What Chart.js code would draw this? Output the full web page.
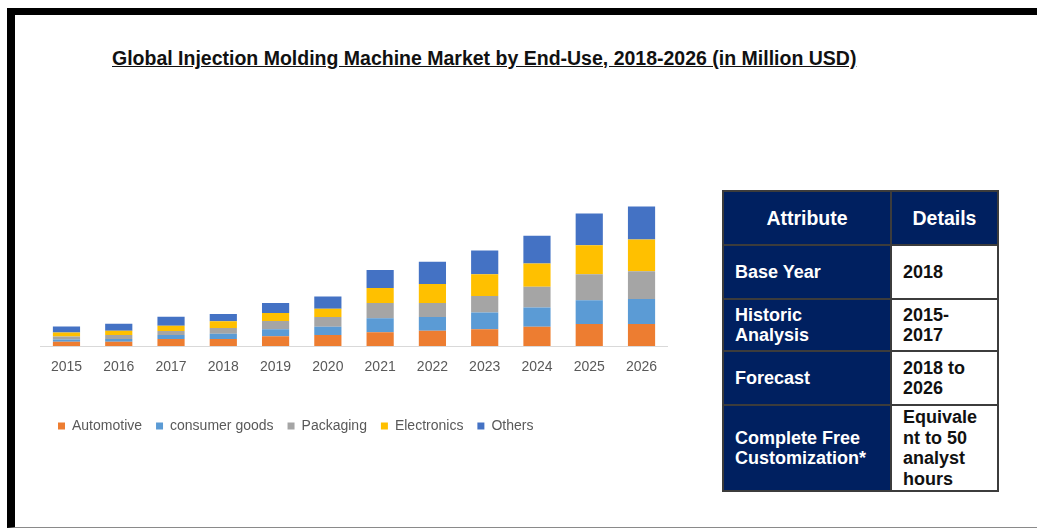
<!DOCTYPE html>
<html>
<head>
<meta charset="utf-8">
<script src="https://cdn.jsdelivr.net/npm/chart.js@4/dist/chart.umd.min.js"></script>
<style>
  html, body { margin: 0; padding: 0; background: #fff; }
  body { width: 1037px; height: 529px; position: relative; overflow: hidden; font-family: "Liberation Sans", Arial, sans-serif; }
  .frame { position: absolute; left: 7px; top: 8px; right: -10px; bottom: 1px;
           border-left: 8px solid #000; border-top: 7px solid #000; border-bottom: 1px solid #8a8a8a; }
  .title { position: absolute; left: 112px; top: 46px; white-space: nowrap;
           font-weight: bold; font-size: 19.5px; line-height: 24px; text-decoration: underline; color: #111; }
  .chart-box { position: absolute; left: 38px; top: 196px; width: 632px; height: 247px; }
  table.attr { position: absolute; left: 722px; top: 190px; width: 275px; border-collapse: collapse; table-layout: fixed; }
  table.attr td { border: 2px solid #3c3c3c; font-weight: bold; font-size: 18px; line-height: 20.5px; vertical-align: middle; padding: 0 5px 0 11px; }
  table.attr td.k { background: #002060; color: #fff; }
  table.attr td.v { background: #fff; color: #111; }
  table.attr tr.head td { text-align: center; font-size: 19.5px; padding: 0; }
</style>
</head>
<body>
<div class="frame"></div>
<div class="title">Global Injection Molding Machine Market by End-Use, 2018-2026 (in Million USD)</div>
<div class="chart-box"><canvas id="marketChart"></canvas></div>
<table class="attr">
  <colgroup><col style="width:168px"><col style="width:107px"></colgroup>
  <tr class="head" style="height:54px"><td class="k">Attribute</td><td class="k">Details</td></tr>
  <tr style="height:54px"><td class="k">Base Year</td><td class="v">2018</td></tr>
  <tr style="height:52px"><td class="k">Historic<br>Analysis</td><td class="v">2015-<br>2017</td></tr>
  <tr style="height:54px"><td class="k">Forecast</td><td class="v">2018 to<br>2026</td></tr>
  <tr style="height:86px"><td class="k">Complete Free<br>Customization*</td><td class="v">Equivale<br>nt to 50<br>analyst<br>hours</td></tr>
</table>
<script>
// values (relative, same scale for all series)
const years = ['2015', '2016', '2017', '2018', '2019', '2020', '2021', '2022', '2023', '2024', '2025', '2026'];
const automotive    = [4.3, 4.3, 7.0, 7.0, 9.7, 11.0, 13.7, 15.3, 16.7, 19.3, 22.0, 22.0];
const consumerGoods = [2.3, 2.7, 4.0, 5.3, 7.0, 8.3, 14.0, 13.7, 16.7, 19.3, 23.7, 25.0];
const packaging     = [3.0, 4.0, 4.0, 5.7, 8.3, 9.7, 15.3, 14.0, 16.7, 20.7, 26.0, 27.7];
const electronics   = [4.0, 4.3, 5.3, 6.7, 8.0, 8.3, 15.0, 19.0, 21.7, 23.3, 29.0, 31.7];
const others        = [6.0, 7.0, 9.0, 7.3, 10.0, 12.3, 18.0, 22.3, 23.7, 27.7, 31.7, 33.0];
const yMax = 150;

Chart.defaults.font.family = '"Liberation Sans", Arial, sans-serif';
Chart.defaults.color = '#595959';

const ctx = document.getElementById('marketChart').getContext('2d');
const makeSet = (label, data, color) => ({
  label: label,
  data: data,
  backgroundColor: color,
  borderWidth: 0,
  barPercentage: 0.65,
  categoryPercentage: 0.8
});

// legend sits a bit to the right of the plot's left edge in the original
const legendShift = {
  id: 'legendShift',
  afterLayout(chart) {
    if (chart.legend) {
      chart.legend.left += 6;
      chart.legend.right += 6;
    }
  }
};

new Chart(ctx, {
  type: 'bar',
  data: {
    labels: years,
    datasets: [
      makeSet('Automotive', automotive, '#ED7D31'),
      makeSet('consumer goods', consumerGoods, '#5B9BD5'),
      makeSet('Packaging', packaging, '#A5A5A5'),
      makeSet('Electronics', electronics, '#FFC000'),
      makeSet('Others', others, '#4472C4')
    ]
  },
  options: {
    responsive: true,
    maintainAspectRatio: false,
    animation: false,
    layout: { padding: 0 },
    plugins: {
      legend: {
        position: 'bottom',
        align: 'start',
        labels: { boxWidth: 7, boxHeight: 7, padding: 14, font: { size: 14 }, color: '#595959' }
      },
      tooltip: { enabled: false }
    },
    scales: {
      x: {
        stacked: true,
        grid: { display: false, drawTicks: false },
        border: { display: true, color: '#d9d9d9', width: 1 },
        ticks: { padding: 13, maxRotation: 0, font: { size: 14 }, color: '#595959' },
        afterFit: (scale) => { scale.height = 59; }
      },
      y: {
        stacked: true,
        display: false,
        min: 0,
        max: yMax
      }
    }
  },
  plugins: [legendShift]
});
</script>
</body>
</html>
